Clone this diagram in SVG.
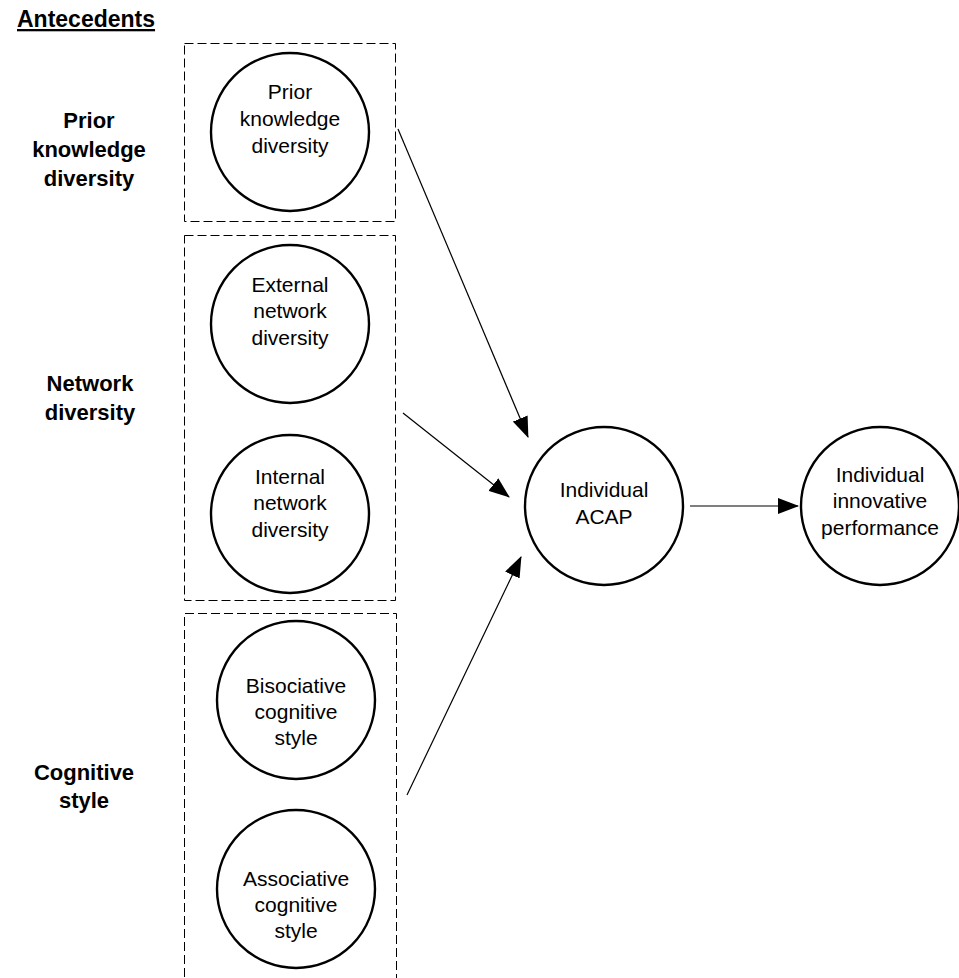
<svg xmlns="http://www.w3.org/2000/svg" width="959" height="978" viewBox="0 0 959 978">
  <style>
    .bg { fill: #ffffff; }
    .group-box { fill: none; stroke: #000; stroke-width: 1; stroke-dasharray: 9 4; }
    .node circle { fill: #fff; stroke: #000; stroke-width: 2.4; }
    .node text { font-family: "Liberation Sans", Arial, sans-serif; font-size: 21px; fill: #000; text-anchor: middle; }
    .label { font-family: "Liberation Sans", Arial, sans-serif; font-size: 22px; font-weight: bold; fill: #000; text-anchor: middle; }
    .title { font-family: "Liberation Sans", Arial, sans-serif; font-size: 23px; font-weight: bold; fill: #000; text-decoration: underline; }
    .edge { fill: none; stroke: #000; stroke-width: 1.2; marker-end: url(#arrow); }
  </style>
  <defs>
    <marker id="arrow" markerUnits="userSpaceOnUse" markerWidth="21" markerHeight="16" viewBox="0 0 21 16" refX="20" refY="8" orient="auto">
      <path d="M0,0 L21,8 L0,16 Z" fill="#000"/>
    </marker>
  </defs>

  <rect class="bg" x="0" y="0" width="959" height="978"/>

  <!-- Heading and side labels -->
  <text class="title" x="17" y="27">Antecedents</text>
  <text class="label"><tspan x="89" y="128">Prior</tspan><tspan x="89" y="157">knowledge</tspan><tspan x="89" y="186">diversity</tspan></text>
  <text class="label"><tspan x="90" y="391">Network</tspan><tspan x="90" y="420">diversity</tspan></text>
  <text class="label"><tspan x="84" y="780">Cognitive</tspan><tspan x="84" y="808">style</tspan></text>

  <!-- Dashed group boxes -->
  <g id="groups">
    <rect class="group-box" x="184.5" y="43.5" width="211" height="178"/>
    <rect class="group-box" x="184.5" y="235.5" width="211" height="365"/>
    <path class="group-box" d="M184.5,990 L184.5,613.5 L396.5,613.5 L396.5,990"/>
  </g>

  <!-- Nodes -->
  <g id="prior-knowledge" class="node">
    <circle cx="290" cy="132" r="79"/>
    <text><tspan x="290" y="99">Prior</tspan><tspan x="290" y="126">knowledge</tspan><tspan x="290" y="153">diversity</tspan></text>
  </g>
  <g id="external-network" class="node">
    <circle cx="290" cy="324" r="79"/>
    <text><tspan x="290" y="292">External</tspan><tspan x="290" y="318">network</tspan><tspan x="290" y="345">diversity</tspan></text>
  </g>
  <g id="internal-network" class="node">
    <circle cx="290" cy="514" r="79"/>
    <text><tspan x="290" y="484">Internal</tspan><tspan x="290" y="510">network</tspan><tspan x="290" y="537">diversity</tspan></text>
  </g>
  <g id="bisociative" class="node">
    <circle cx="296" cy="700" r="79"/>
    <text><tspan x="296" y="693">Bisociative</tspan><tspan x="296" y="719">cognitive</tspan><tspan x="296" y="745">style</tspan></text>
  </g>
  <g id="associative" class="node">
    <circle cx="296" cy="889" r="79"/>
    <text><tspan x="296" y="886">Associative</tspan><tspan x="296" y="912">cognitive</tspan><tspan x="296" y="938">style</tspan></text>
  </g>
  <g id="acap" class="node">
    <circle cx="604" cy="506" r="79"/>
    <text><tspan x="604" y="497">Individual</tspan><tspan x="604" y="524">ACAP</tspan></text>
  </g>
  <g id="innovative-performance" class="node">
    <circle cx="880" cy="506" r="79"/>
    <text><tspan x="880" y="482">Individual</tspan><tspan x="880" y="508">innovative</tspan><tspan x="880" y="535">performance</tspan></text>
  </g>

  <!-- Connectors -->
  <g id="connectors">
    <line class="edge" x1="398" y1="129" x2="528" y2="437"/>
    <line class="edge" x1="403" y1="413" x2="509" y2="497"/>
    <line class="edge" x1="407" y1="795" x2="521" y2="557"/>
    <line class="edge" x1="690" y1="506" x2="798" y2="506"/>
  </g>
</svg>
